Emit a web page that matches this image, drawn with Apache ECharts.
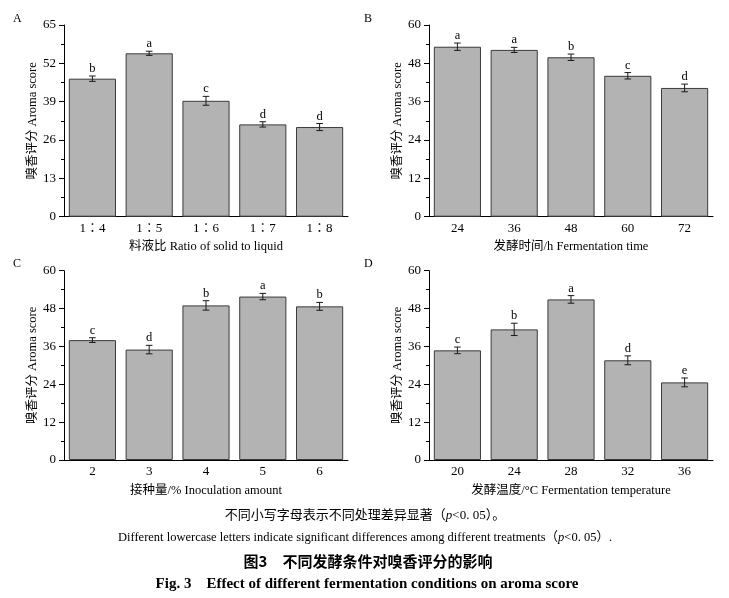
<!DOCTYPE html>
<html>
<head>
<meta charset="utf-8">
<script src="https://cdn.jsdelivr.net/npm/echarts@6/dist/echarts.min.js"></script>
<style>html,body{margin:0;padding:0;background:#fff;}#c{width:729px;height:598px;}</style>
</head>
<body>
<div id="c"></div>
<script>
// ---- data ----
const catsA = ['1∶4', '1∶5', '1∶6', '1∶7', '1∶8'];
const meanA = [46.8, 55.4, 39.3, 31.3, 30.4];
const errA = [0.9, 0.7, 1.5, 0.9, 1.2];
const letA = ['b', 'a', 'c', 'd', 'd'];

const catsB = ['24', '36', '48', '60', '72'];
const meanB = [53.2, 52.2, 49.9, 44.1, 40.3];
const errB = [1.15, 0.8, 1.0, 1.0, 1.2];
const letB = ['a', 'a', 'b', 'c', 'd'];

const catsC = ['2', '3', '4', '5', '6'];
const meanC = [38.0, 35.0, 49.0, 51.8, 48.7];
const errC = [0.75, 1.35, 1.5, 1.0, 1.25];
const letC = ['c', 'd', 'b', 'a', 'b'];

const catsD = ['20', '24', '28', '32', '36'];
const meanD = [34.75, 41.4, 50.9, 31.6, 24.6];
const errD = [1.05, 1.95, 1.2, 1.4, 1.4];
const letD = ['c', 'b', 'a', 'd', 'e'];

const yMaxA = 65, yIntA = 13;
const yMax = 60, yInt = 12;

const xNames = ['料液比 Ratio of solid to liquid', '发酵时间/h Fermentation time', '接种量/% Inoculation amount', '发酵温度/°C Fermentation temperature'];
const yName = '嗅香评分 Aroma score';
const panelLetters = ['A', 'B', 'C', 'D'];

// ---- chart ----
const FONT = '"Liberation Serif", "Noto Sans CJK SC", serif';
const chart = echarts.init(document.getElementById('c'), null, {renderer: 'canvas'});

const panels = [
  {cats: catsA, mean: meanA, err: errA, let: letA, max: yMaxA, int: yIntA},
  {cats: catsB, mean: meanB, err: errB, let: letB, max: yMax, int: yInt},
  {cats: catsC, mean: meanC, err: errC, let: letC, max: yMax, int: yInt},
  {cats: catsD, mean: meanD, err: errD, let: letD, max: yMax, int: yInt}
];
const grids = [
  {left: 64, top: 25, width: 284, height: 191.7},
  {left: 429, top: 25, width: 284, height: 191.7},
  {left: 64, top: 270.7, width: 284, height: 189.3},
  {left: 429, top: 270.7, width: 284, height: 189.3}
];

const xAxis = [], yAxis = [], series = [];
panels.forEach((p, k) => {
  xAxis.push({
    type: 'category', gridIndex: k, data: p.cats,
    axisLine: {lineStyle: {color: '#000', width: 1}},
    axisTick: {show: false},
    axisLabel: {color: '#000', fontFamily: FONT, fontSize: 13, margin: 5},
    name: xNames[k], nameLocation: 'middle', nameGap: 24,
    nameTextStyle: {color: '#000', fontFamily: FONT, fontSize: 12.5}
  });
  yAxis.push({
    type: 'value', gridIndex: k, min: 0, max: p.max, interval: p.int,
    axisLine: {show: true, lineStyle: {color: '#000', width: 1}},
    axisTick: {show: true, inside: false, length: 5, lineStyle: {color: '#000'}},
    minorTick: {show: true, splitNumber: 2, length: 3, lineStyle: {color: '#000'}},
    splitLine: {show: false},
    axisLabel: {color: '#000', fontFamily: FONT, fontSize: 13, margin: 8},
    name: yName, nameLocation: 'middle', nameGap: 23,
    nameTextStyle: {color: '#000', fontFamily: FONT, fontSize: 12.5}
  });
  series.push({
    type: 'bar', xAxisIndex: k, yAxisIndex: k, data: p.mean,
    barCategoryGap: '17%',
    itemStyle: {color: '#b3b3b3', borderColor: '#3a3a3a', borderWidth: 1},
    silent: true
  });
  series.push({
    type: 'custom', xAxisIndex: k, yAxisIndex: k, z: 5,
    data: p.mean.map((m, i) => [i, m, p.err[i]]),
    renderItem: function (params, api) {
      const x = api.value(0), m = api.value(1), e = api.value(2);
      const t = api.coord([x, m + e]);
      const b = api.coord([x, m - e]);
      const cx = t[0], w = 3.3;
      const st = {stroke: '#1a1a1a', lineWidth: 1};
      return {
        type: 'group',
        children: [
          {type: 'line', shape: {x1: cx, y1: t[1], x2: cx, y2: b[1]}, style: st},
          {type: 'line', shape: {x1: cx - w, y1: t[1], x2: cx + w, y2: t[1]}, style: st},
          {type: 'line', shape: {x1: cx - w, y1: b[1], x2: cx + w, y2: b[1]}, style: st},
          {type: 'text', x: cx, y: t[1] - 1,
            style: {text: p.let[params.dataIndex], fill: '#000', font: '12.5px ' + FONT,
              textAlign: 'center', textVerticalAlign: 'bottom'}}
        ]
      };
    }
  });
});

const graphic = [
  {type: 'text', left: 13, top: 13, style: {text: panelLetters[0], fill: '#000', font: '12px ' + FONT}},
  {type: 'text', left: 364, top: 13, style: {text: panelLetters[1], fill: '#000', font: '12px ' + FONT}},
  {type: 'text', left: 13, top: 258, style: {text: panelLetters[2], fill: '#000', font: '12px ' + FONT}},
  {type: 'text', left: 364, top: 258, style: {text: panelLetters[3], fill: '#000', font: '12px ' + FONT}},
  {type: 'text', x: 365, y: 516, style: {
    text: '不同小写字母表示不同处理差异显著（{i|p}<0. 05）。', fill: '#000',
    font: '13px ' + FONT, textAlign: 'center', textVerticalAlign: 'middle',
    rich: {i: {fontStyle: 'italic', fontFamily: FONT, fontSize: 13}}}},
  {type: 'text', x: 365, y: 538, style: {
    text: 'Different lowercase letters indicate significant differences among different treatments（{i|p}<0. 05）.', fill: '#000',
    font: '12.5px ' + FONT, textAlign: 'center', textVerticalAlign: 'middle',
    rich: {i: {fontStyle: 'italic', fontFamily: FONT, fontSize: 12.5}}}},
  {type: 'text', x: 368, y: 561, style: {
    text: '图3　不同发酵条件对嗅香评分的影响', fill: '#000',
    font: 'bold 15px "Noto Sans CJK SC", sans-serif', textAlign: 'center', textVerticalAlign: 'middle'}},
  {type: 'text', x: 367, y: 584, style: {
    text: 'Fig. 3　Effect of different fermentation conditions on aroma score', fill: '#000',
    font: 'bold 15px ' + FONT, textAlign: 'center', textVerticalAlign: 'middle'}}
];

chart.setOption({
  animation: false,
  backgroundColor: '#fff',
  grid: grids,
  xAxis: xAxis,
  yAxis: yAxis,
  series: series,
  graphic: graphic
});
</script>
</body>
</html>
